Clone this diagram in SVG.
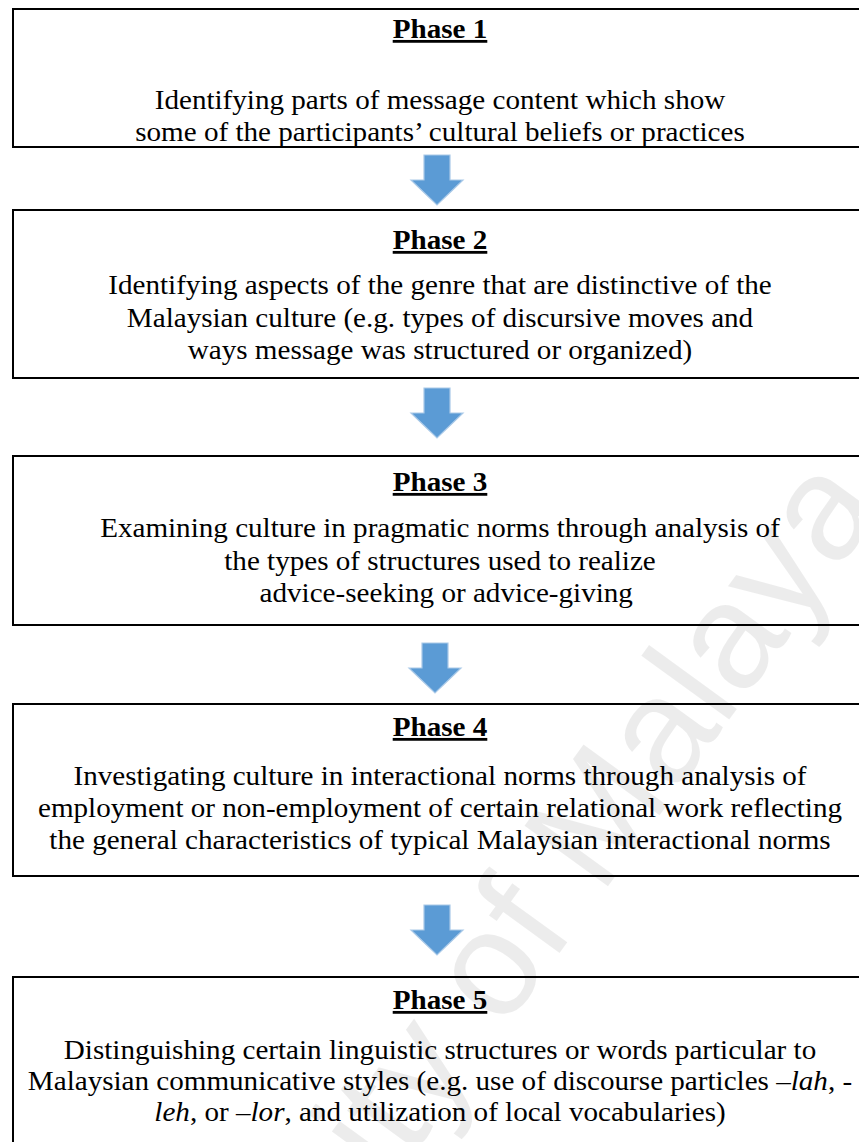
<svg xmlns="http://www.w3.org/2000/svg" width="859" height="1142" viewBox="0 0 859 1142">
  <style>
    .box { fill: none; stroke: #000; stroke-width: 2; }
    .t { font-family: "Liberation Serif", "Times New Roman", serif; font-size: 28px; fill: #000; text-anchor: middle; }
    .h { font-weight: bold; text-decoration: underline; }
    .i { font-style: italic; }
    .arrow { fill: #5b9bd5; stroke: #a9c9e8; stroke-width: 1.2; stroke-linejoin: miter; }
    .wm { font-family: "Liberation Sans", Arial, sans-serif; font-size: 150px; fill: #000; fill-opacity: 0.075; }
  </style>
  <rect width="859" height="1142" fill="#fff"/>

  <!-- Phase 1 -->
  <g id="phase1">
    <rect class="box" x="13" y="9" width="860" height="138"/>
    <g transform="translate(440,0) scale(1.04,1)">
      <text class="t h" x="0" y="38">Phase 1</text>
      <text class="t" x="0" y="109">Identifying parts of message content which show</text>
      <text class="t" x="0" y="141">some of the participants’ cultural beliefs or practices</text>
    </g>
  </g>

  <!-- Phase 2 -->
  <g id="phase2">
    <rect class="box" x="13" y="210" width="860" height="168"/>
    <g transform="translate(440,0) scale(1.04,1)">
      <text class="t h" x="0" y="249">Phase 2</text>
      <text class="t" x="0" y="294">Identifying aspects of the genre that are distinctive of the</text>
      <text class="t" x="0" y="327">Malaysian culture (e.g. types of discursive moves and</text>
      <text class="t" x="0" y="359">ways message was structured or organized)</text>
    </g>
  </g>

  <!-- Phase 3 -->
  <g id="phase3">
    <rect class="box" x="13" y="456" width="860" height="169"/>
    <g transform="translate(440,0) scale(1.04,1)">
      <text class="t h" x="0" y="491">Phase 3</text>
      <text class="t" x="0" y="537">Examining culture in pragmatic norms through analysis of</text>
      <text class="t" x="0" y="570">the types of structures used to realize</text>
      <text class="t" x="6" y="602">advice-seeking or advice-giving</text>
    </g>
  </g>

  <!-- Phase 4 -->
  <g id="phase4">
    <rect class="box" x="13" y="704" width="860" height="172"/>
    <g transform="translate(440,0) scale(1.04,1)">
      <text class="t h" x="0" y="736">Phase 4</text>
      <text class="t" x="0" y="785">Investigating culture in interactional norms through analysis of</text>
      <text class="t" x="0" y="817">employment or non-employment of certain relational work reflecting</text>
      <text class="t" x="0" y="849">the general characteristics of typical Malaysian interactional norms</text>
    </g>
  </g>

  <!-- Phase 5 -->
  <g id="phase5">
    <path class="box" d="M13,1150 V977 H873"/>
    <g transform="translate(440,0) scale(1.04,1)">
      <text class="t h" x="0" y="1009">Phase 5</text>
      <text class="t" x="0" y="1059">Distinguishing certain linguistic structures or words particular to</text>
      <text class="t" x="0" y="1090">Malaysian communicative styles (e.g. use of discourse particles –<tspan class="i">lah</tspan>, -</text>
      <text class="t" x="0" y="1121"><tspan class="i">leh</tspan>, or –<tspan class="i">lor</tspan>, and utilization of local vocabularies)</text>
    </g>
  </g>

  <!-- Block arrows between phases -->
  <g id="connectors">
    <path class="arrow" d="M424,155 H450 V180 H463 L437,205 L411,180 H424 Z"/>
    <path class="arrow" d="M424,388 H450 V413 H463 L437,438 L411,413 H424 Z"/>
    <path class="arrow" d="M422,643 H448 V668 H461 L435,693 L409,668 H422 Z"/>
    <path class="arrow" d="M424,905 H450 V930 H463 L437,955 L411,930 H424 Z"/>
  </g>

  <!-- Watermark -->
  <text class="wm" transform="translate(885,505) rotate(-54)" text-anchor="end">University of Malaya</text>
</svg>
